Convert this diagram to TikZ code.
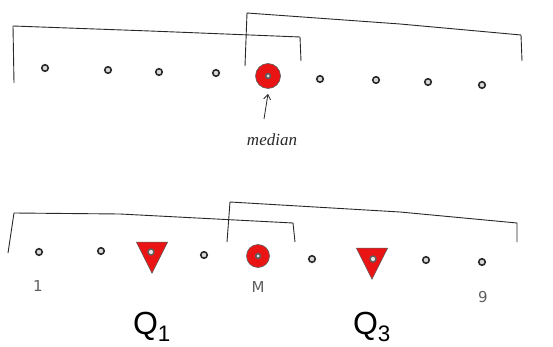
\documentclass[tikz,border=0pt]{standalone}
\usepackage{fontspec}
\setmainfont{Liberation Sans}
\newfontfamily\handfont{DejaVu Sans}
\newfontfamily\notefont{Liberation Serif}
\usetikzlibrary{shapes.geometric,arrows.meta}
\definecolor{ink}{RGB}{40,40,40}
\definecolor{pencil}{RGB}{95,95,95}
\definecolor{mark}{RGB}{235,20,20}
\tikzset{
  pt/.style={circle,draw=ink,line width=1.6pt,fill=white!70!gray,minimum size=6.5pt,inner sep=0pt},
  medianpt/.style={circle,draw=pencil,line width=0.6pt,fill=mark,minimum size=#1,inner sep=0pt,
    path picture={\fill[pencil] (path picture bounding box.center) circle (3.2pt);
                  \fill[white!80!gray] (path picture bounding box.center) circle (1.5pt);}},
  medianpt/.default=25pt,
  quartpt/.style={regular polygon,regular polygon sides=3,shape border rotate=180,draw=pencil,
    line width=0.6pt,fill=mark,minimum size=36pt,inner sep=0pt,yscale=1.15,transform shape},
  centre/.style={circle,draw=pencil,line width=1.4pt,fill=white!80!gray,minimum size=6pt,inner sep=0pt},
  brace/.style={draw=ink,line width=0.9pt,line join=round},
  handlabel/.style={font=\notefont\itshape\fontsize{17}{17}\selectfont,text=ink,inner sep=0pt},
  numlabel/.style={font=\handfont\fontsize{15}{15}\selectfont,text=pencil,inner sep=0pt},
  qlabel/.style={font=\fontsize{32}{32}\selectfont,text=black,inner sep=0pt},
}
\begin{document}
\begin{tikzpicture}[x=1pt,y=-1pt]
\useasboundingbox[fill=white] (0,0) rectangle (553,347);

% upper row of nine values
\node[pt] (a1) at (45,68) {};
\node[pt] (a2) at (108,70) {};
\node[pt] (a3) at (159,72) {};
\node[pt] (a4) at (216,73) {};
\node[medianpt] (a5) at (268,76) {};
\node[pt] (a6) at (320,79) {};
\node[pt] (a7) at (376,80) {};
\node[pt] (a8) at (428,82) {};
\node[pt] (a9) at (482,85) {};

% upper halves
\draw[brace] (14,83) -- (13,26) -- (150,31) -- (300,37) -- (301,61);
\draw[brace] (245,66) -- (247,13) -- (400,24) -- (521,35) -- (522,61);

% median pointer
\node[handlabel] (medtext) at (272,140) {median};
\coordinate (arrtail) at (264,119);
\draw[ink,line width=0.8pt,-{Straight Barb[length=5pt,width=7pt]}] (arrtail) -- ([yshift=-5pt]a5.south);

% lower row of nine values
\node[pt] (b1) at (39,252) {};
\node[pt] (b2) at (101,251) {};
\node[quartpt] (b3) at (152,252.5) {};
\node[centre] (b3c) at (151,252) {};
\node[pt] (b4) at (204,255) {};
\node[medianpt=23pt] (b5) at (258,256) {};
\node[pt] (b6) at (312,259) {};
\node[quartpt] (b7) at (372,258.5) {};
\node[centre] (b7c) at (373,259) {};
\node[pt] (b8) at (426,260) {};
\node[pt] (b9) at (482,262) {};

% lower halves
\draw[brace] (8,253) -- (14,213) -- (120,214) -- (293,223) -- (295,242);
\draw[brace] (227,242) -- (230,202) -- (400,212) -- (517,223) -- (517,242);

% position labels
\node[numlabel] (n1) at (38,286) {1};
\node[numlabel] (nM) at (258,287) {M};
\node[numlabel] (n9) at (483,297) {9};

% quartile names
\node[qlabel] (q1) at (152,327) {Q\textsubscript{1}};
\node[qlabel] (q3) at (372,327) {Q\textsubscript{3}};
\end{tikzpicture}
\end{document}
